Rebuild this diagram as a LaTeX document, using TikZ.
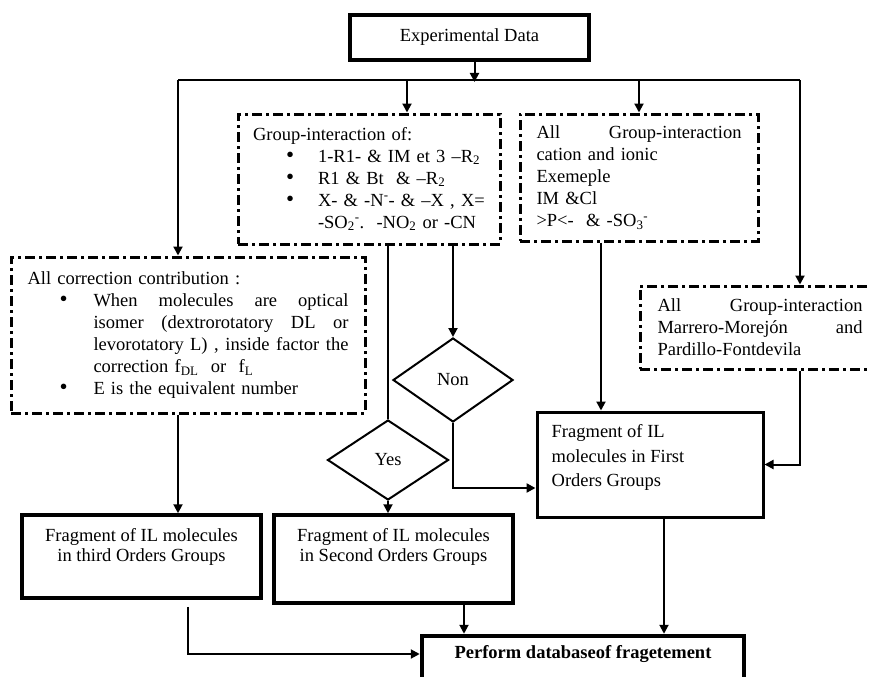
\documentclass[tikz,border=0pt]{standalone}
\usepackage{fontspec}
\setmainfont{Liberation Serif}
\usetikzlibrary{shapes.geometric,arrows.meta}

% bullets for the two dash-dot lists
\newcommand{\bigdot}{\smash{\fontsize{23}{22}\selectfont\textbullet}}
\newcommand{\bul}{\makebox[65pt][l]{\hspace*{33pt}\bigdot}}
\newcommand{\cbul}{\makebox[66pt][l]{\hspace*{32pt}\bigdot}}

\begin{document}
\begin{tikzpicture}[
    x=1pt, y=-1pt,
    txt/.style={font=\fontsize{18.5}{22}\selectfont},
    sbox/.style={txt,draw,rectangle,line width=3.5pt},
    dbox/.style={txt,draw,rectangle,line width=3pt,align=left,
                 dash pattern=on 10pt off 4pt on 3pt off 4pt},
    dia/.style={txt,draw,diamond,line width=2pt,aspect=1.4,inner sep=1pt},
    lbl/.style={txt,inner sep=0pt,anchor=north},
    ln/.style={line width=2pt},
    arr/.style={ln,-{Triangle[length=9pt,width=9pt]}}
]
\useasboundingbox (0,0) rectangle (870,677);
\clip (0,0) rectangle (870,677);

% top box
\node[sbox,line width=4pt,minimum width=239pt,minimum height=45pt] (data) at (469.5,37.5) {Experimental Data};

% bus under the top box
\coordinate (dsplit) at ([xshift=5pt,yshift=-20pt]data.south);
\coordinate (busL) at (178,80);
\coordinate (busR) at (800,80);
\coordinate (b1) at (407,80);
\coordinate (b2) at (639,80);

% group-interaction boxes
\node[dbox,minimum width=262pt,minimum height=130pt,text width=232pt] (grp) at (369,179)
  {Group-interaction of:\\
   \bul 1-R1- \& IM et 3 --R\textsubscript{2}\\
   \bul R1 \& Bt\ \ \& --R\textsubscript{2}\\
   \bul X-\ \& -N\textsuperscript{-}-\ \& --X , X=\\
   \hspace*{65pt}-SO\textsubscript{2}\textsuperscript{-}.\ \ -NO\textsubscript{2} or -CN};
\node[dbox,minimum width=238pt,minimum height=127pt,text width=205pt] (cat) at (639,177.5)
  {\makebox[205pt]{All\hfill Group-interaction}\\
   cation and ionic\\
   Exemeple\\
   IM \&Cl\\
   >P<-\ \ \& -SO\textsubscript{3}\textsuperscript{-}};
\node[dbox,minimum width=354pt,minimum height=156pt,text width=321pt] (corr) at (188,335)
  {All correction contribution :\\
   \cbul\makebox[255pt]{When\hfill molecules\hfill are\hfill optical}\\
   \hspace*{66pt}\makebox[255pt]{isomer\hfill (dextrorotatory\hfill DL\hfill or}\\
   \hspace*{66pt}\makebox[255pt]{levorotatory L)\hfill ,\hfill inside\hfill factor\hfill the}\\
   \hspace*{66pt}correction f\textsubscript{DL}\ \ or\ \ f\textsubscript{L}\\
   \cbul E is the equivalent number};
\node[dbox,minimum width=240pt,minimum height=83pt,text width=205pt] (mm) at (760,327.5)
  {\makebox[205pt]{All\hfill Group-interaction}\\
   \makebox[205pt]{Marrero-Morejón\hfill and}\\
   Pardillo-Fontdevila};

% decisions
\node[dia,minimum width=120pt,minimum height=84pt] (non) at (453,380) {Non};
\node[dia,minimum width=121pt,minimum height=80pt] (yes) at (388,460) {Yes};

% fragment boxes
\node[sbox,line width=3pt,minimum width=226pt,minimum height=105pt] (first) at (650,464.5) {};
\node[lbl,anchor=north west,align=left,font=\fontsize{18.5}{24.5}\selectfont] (firstlbl)
  at ([xshift=16pt,yshift=-14pt]first.north west) {Fragment of IL\\molecules in First\\Orders Groups};
\node[sbox,minimum width=239pt,minimum height=83pt] (third) at (141.5,556.5) {};
\node[lbl,align=center,font=\fontsize{18.5}{20.5}\selectfont] (thirdlbl)
  at ([yshift=-15pt]third.north) {Fragment of IL molecules\\in third Orders Groups};
\node[sbox,minimum width=239pt,minimum height=88pt] (second) at (393.5,559) {};
\node[lbl,align=center,font=\fontsize{18.5}{20.5}\selectfont] (secondlbl)
  at ([yshift=-15pt]second.north) {Fragment of IL molecules\\in Second Orders Groups};

% result
\node[sbox,line width=4.5pt,minimum width=322pt,minimum height=64pt] (perform) at (583,668) {};
\node[lbl,font=\fontsize{18.5}{22}\selectfont\bfseries] (performlbl)
  at ([yshift=-12pt]perform.north) {Perform databaseof fragetement};

% connectors from the top
\draw[arr] ([xshift=5pt]data.south) -- (dsplit);
\draw[ln]  (busL) -- (busR);
\draw[arr] (b1) -- ([xshift=38pt]grp.north);
\draw[arr] (b2) -- (cat.north);
\draw[arr] (busL) -- ([xshift=-10pt]corr.north);
\draw[arr] (busR) -- ([xshift=40pt]mm.north);

% decisions
\draw[ln]  ([xshift=19pt]grp.south) -- (yes.north);
\draw[arr] ([xshift=84pt]grp.south) -- (non.north);
\draw[arr,line width=2.5pt] (non.south) |- ([yshift=-23.5pt]first.west);
\draw[arr] (yes.south) -- ([xshift=-5.5pt]second.north);

% into first orders
\draw[arr] ([xshift=-38pt]cat.south) -- ([xshift=-49pt]first.north);
\draw[arr] ([xshift=40pt]mm.south) |- (first.east);

% third orders
\draw[arr] ([xshift=-10pt]corr.south) -- ([xshift=36.5pt]third.north);

% into the result
\draw[arr] ([xshift=46.5pt,yshift=-7pt]third.south) |- ([yshift=14pt]perform.west);
\draw[arr] ([xshift=70.5pt]second.south) -- ([xshift=-119pt]perform.north);
\draw[arr] ([xshift=14pt]first.south) -- ([xshift=81pt]perform.north);

\end{tikzpicture}
\end{document}
